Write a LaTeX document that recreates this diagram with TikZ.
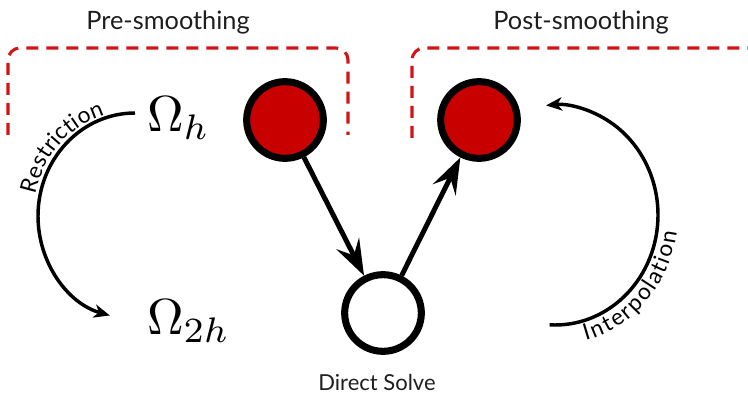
\documentclass[tikz,border=0pt]{standalone}
\usepackage{fontspec}
\setmainfont{Lato}
\usetikzlibrary{arrows.meta,decorations.text,calc}
\definecolor{dred}{RGB}{200,0,0}
\definecolor{bred}{RGB}{210,20,20}
\definecolor{txt}{RGB}{30,30,30}
\begin{document}
\begin{tikzpicture}[x=0.75pt,y=0.75pt,
  smoothnode/.style={circle,draw=black,line width=5.3pt,fill=dred,minimum size=57.5pt,inner sep=0pt},
  solvenode/.style={circle,draw=black,line width=5.3pt,fill=white,minimum size=57.5pt,inner sep=0pt},
  bracket/.style={draw=bred,line width=2.3pt,dash pattern=on 9pt off 6pt,rounded corners=9pt},
  flow/.style={line width=3.7pt,-{Stealth[length=27pt,width=19pt,inset=10pt]}},
  cyc/.style={line width=2.6pt,-{Stealth[length=12pt,width=10pt,inset=3.5pt]}},
  title/.style={text=txt,font=\fontsize{19}{22}\selectfont},
  omega/.style={anchor=base west,inner sep=0pt,scale=3.8}]
\clip (0,0) rectangle (748,396);
% titles
\node[title] (pre) at (168,374) {Pre-smoothing};
\node[title] (post) at (581,374) {Post-smoothing};
% dashed brackets
\draw[bracket] (8,261) -- (8,348) -- (348,348) -- (348,261);
\draw[bracket] (412,258) -- (412,348) -- (770,348);
% nodes
\node[smoothnode] (r1) at (285,276) {};
\node[smoothnode] (r2) at (479,276) {};
\node[solvenode] (ds) at (383,83) {};
\node[text=txt,font=\fontsize{16.5}{19}\selectfont] (dsl) at (377,14) {Direct Solve};
\node[omega] (omh) at (146,264) {$\Omega_h$};
\node[omega] (om2h) at (146,61) {$\Omega_{2h}$};
% flow arrows
\draw[flow] (r1) -- (ds);
\draw[flow] (ds) -- (r2);
% restriction
\coordinate (rs) at (135,283);
\draw[cyc] (rs) arc[start angle=90,end angle=255,x radius=97,y radius=103];
\path[decorate,decoration={text along path,raise=2.5pt,
   text={|\fontsize{17}{20}\selectfont|Restriction}}]
   (38.6,200.7) arc[start angle=168,end angle=90,x radius=97,y radius=103];
% interpolation
\coordinate (is) at (549.6,71.15);
\draw[cyc] (is) arc[start angle=-93,end angle=95,x radius=103,y radius=110];
\path[decorate,decoration={text along path,raise=-15pt,
   text={|\fontsize{17}{20}\selectfont|Interpolation}}]
   (579.9,74.3) arc[start angle=-76,end angle=0,x radius=103,y radius=110];
\end{tikzpicture}
\end{document}
